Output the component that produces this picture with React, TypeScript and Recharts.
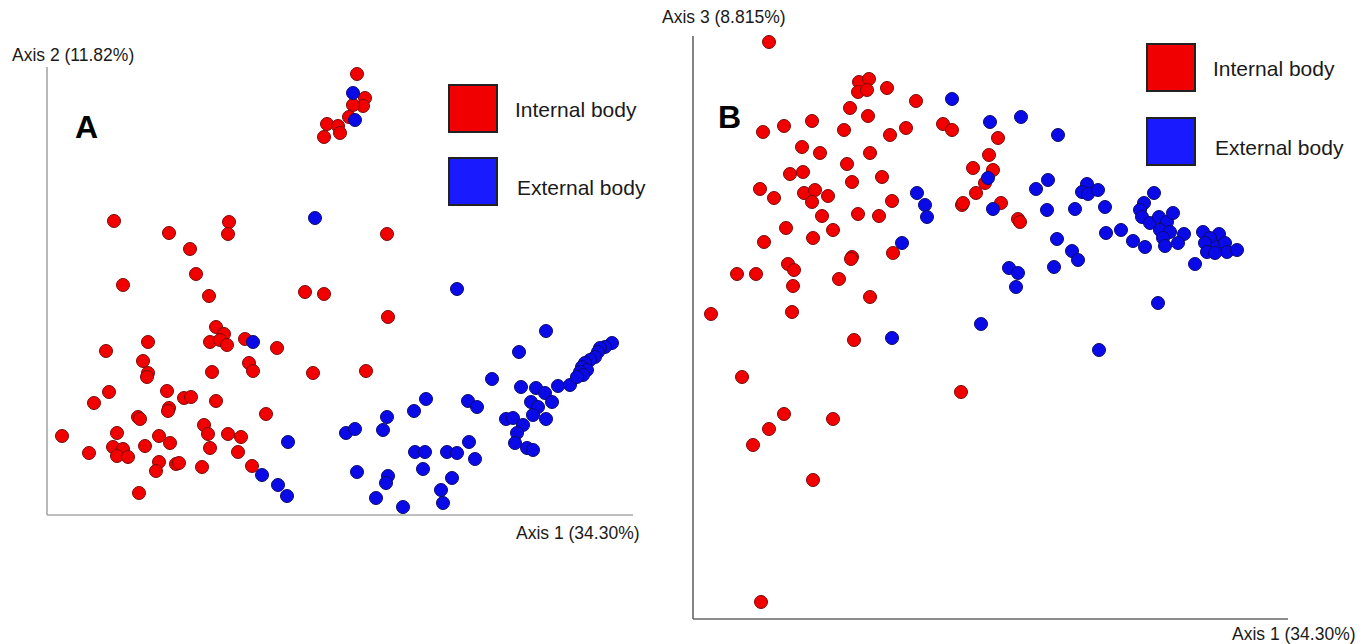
import { ScatterChart, Scatter, XAxis, YAxis, Legend } from "recharts";

// PCoA scores (arbitrary units, origin at the axes corner)
const groups = ["Internal body", "External body"];

const internalA = [
  [310, 441], [318, 417], [316, 409], [306, 410], [302, 398], [280, 391], [291, 389], [293, 382], [277, 378],
  [67, 294], [122, 282], [182, 293], [181, 281], [143, 266], [149, 241], [340, 281], [76, 230], [162, 219],
  [258, 223], [277, 221], [341, 198], [169, 188], [177, 181], [163, 173], [173, 175], [180, 170], [198, 176],
  [230, 167], [101, 173], [59, 164], [96, 154], [101, 142], [100, 138], [165, 143], [202, 152], [206, 144],
  [266, 142], [319, 144], [62, 123], [47, 112], [120, 124], [137, 117], [144, 118], [122, 107], [121, 104],
  [169, 114], [91, 98], [93, 96], [219, 101], [157, 90], [161, 81], [15, 79], [70, 82], [112, 79], [123, 72],
  [181, 81], [194, 78], [42, 62], [66, 68], [76, 66], [70, 59], [81, 58], [98, 69], [163, 67], [191, 63],
  [112, 53], [109, 44], [129, 51], [132, 52], [155, 48], [205, 49], [92, 22],
];

const externalA = [
  [306, 422], [308, 395], [268, 297], [206, 173], [410, 226], [241, 73], [215, 40], [231, 30], [240, 19],
  [499, 184], [472, 163], [445, 136], [474, 128], [489, 127], [498, 122], [511, 129], [523, 130], [565, 172],
  [558, 168], [553, 167], [551, 163], [548, 158], [543, 155], [538, 152], [535, 148], [540, 145], [533, 143],
  [536, 140], [530, 138], [379, 116], [367, 104], [421, 114], [430, 108], [340, 98], [336, 85], [299, 82],
  [308, 86], [459, 96], [466, 97], [476, 90], [484, 113], [491, 108], [505, 113], [486, 100], [499, 96],
  [470, 82], [468, 72], [480, 67], [486, 65], [422, 73], [368, 63], [378, 63], [400, 63], [410, 62], [428, 56],
  [376, 46], [310, 43], [341, 39], [339, 32], [405, 37], [394, 25], [396, 12], [329, 17], [356, 8],
];

const internalB = [
  [76, 577], [166, 537], [176, 540], [165, 527], [174, 529], [194, 531], [223, 518], [157, 511], [175, 503],
  [70, 487], [91, 493], [119, 498], [151, 489], [197, 484], [213, 491], [250, 495], [259, 489], [305, 481],
  [109, 472], [127, 466], [177, 466], [296, 464], [154, 455], [97, 445], [110, 447], [280, 451], [300, 449],
  [292, 436], [159, 437], [189, 442], [67, 430], [81, 421], [111, 426], [122, 429], [119, 417], [135, 423],
  [199, 418], [283, 426], [269, 414], [270, 416], [308, 416], [325, 400], [327, 397], [129, 403], [165, 405],
  [186, 403], [93, 391], [140, 389], [120, 381], [71, 377], [200, 366], [159, 362], [158, 360], [95, 355],
  [101, 349], [44, 345], [63, 345], [100, 333], [146, 340], [177, 322], [18, 305], [99, 307], [161, 279],
  [49, 242], [268, 227], [91, 205], [76, 190], [60, 174], [140, 200], [120, 139], [68, 17],
];

const externalB = [
  [259, 520], [297, 497], [328, 502], [365, 484], [295, 441], [224, 426], [232, 414], [234, 402], [300, 410],
  [209, 376], [199, 281], [288, 295], [316, 351], [325, 346], [323, 332], [355, 439], [343, 430], [394, 435],
  [389, 427], [395, 425], [405, 429], [354, 409], [382, 410], [412, 412], [461, 426], [451, 416], [447, 409],
  [449, 402], [457, 396], [466, 402], [474, 397], [480, 406], [467, 389], [477, 387], [491, 385], [470, 381],
  [472, 373], [485, 376], [428, 389], [413, 386], [440, 378], [452, 372], [510, 387], [526, 385], [517, 381],
  [512, 376], [524, 372], [532, 376], [514, 367], [534, 367], [544, 369], [522, 366], [364, 380], [379, 368],
  [385, 359], [361, 352], [502, 355], [465, 316], [406, 269],
];

const toPoints = (arr: number[][]) => arr.map(([x, y]) => ({ x, y }));

const legendColors = ["#f00000", "#1a1aff"];

const dot = (fill: string, stroke: string) => (props: any) => (
  <circle cx={props.cx} cy={props.cy} r={6.5} fill={fill} stroke={stroke} strokeWidth={1} />
);

const renderLegend = (step: number) => ({ payload }: any) => {
  const items = [...(payload || [])].sort(
    (a: any, b: any) => groups.indexOf(a.value) - groups.indexOf(b.value)
  );
  return (
    <div>
      {items.map((p: any) => {
        const i = groups.indexOf(p.value);
        return (
          <div key={p.value} style={{ display: "flex", alignItems: "center", height: 49, marginBottom: step - 49 }}>
            <div
              style={{
                width: 46,
                height: 45,
                background: legendColors[i],
                border: "2px solid #222",
              }}
            />
            <span
              style={{
                marginLeft: i === 0 ? 17 : 19,
                position: "relative",
                top: i === 0 ? 1 : 6,
                fontSize: 21,
                color: "#1a1a1a",
              }}
            >
              {p.value}
            </span>
          </div>
        );
      })}
    </div>
  );
};

const label = (text: string, left: number, top: number, extra: any = {}) => (
  <div
    style={{
      position: "absolute",
      left,
      top,
      fontSize: 17.5,
      lineHeight: "20px",
      color: "#1a1a1a",
      whiteSpace: "nowrap",
      ...extra,
    }}
  >
    {text}
  </div>
);

const Panel = ({
  left,
  width,
  height,
  margin,
  xMax,
  yMax,
  internal,
  external,
  axisColor,
  legendPos,
  legendStep,
}: {
  left: number;
  width: number;
  height: number;
  margin: { top: number; right: number; bottom: number; left: number };
  xMax: number;
  yMax: number;
  internal: number[][];
  external: number[][];
  axisColor: string;
  legendPos: { top: number; left: number };
  legendStep: number;
}) => (
  <div style={{ position: "absolute", left, top: 0 }}>
    <ScatterChart width={width} height={height} margin={margin}>
      <XAxis
        type="number"
        dataKey="x"
        domain={[0, xMax]}
        height={1}
        tick={false}
        tickLine={false}
        axisLine={{ stroke: axisColor, strokeWidth: 1.6 }}
      />
      <YAxis
        type="number"
        dataKey="y"
        domain={[0, yMax]}
        width={1}
        tick={false}
        tickLine={false}
        axisLine={{ stroke: axisColor, strokeWidth: 1.6 }}
      />
      <Legend
        layout="horizontal"
        verticalAlign="middle"
        align="center"
        content={renderLegend(legendStep)}
        wrapperStyle={{ top: legendPos.top, left: legendPos.left, width: 230 }}
      />
      <Scatter
        name={groups[0]}
        data={toPoints(internal)}
        fill={legendColors[0]}
        shape={dot("#f20000", "#7a0a0a")}
        isAnimationActive={false}
      />
      <Scatter
        name={groups[1]}
        data={toPoints(external)}
        fill={legendColors[1]}
        shape={dot("#0a0ae8", "#0a0a70")}
        isAnimationActive={false}
      />
    </ScatterChart>
  </div>
);

export default function App() {
  return (
    <div
      style={{
        position: "absolute",
        left: 0,
        top: 0,
        width: 1371,
        height: 644,
        overflow: "hidden",
        background: "#fff",
        fontFamily: "Arial, 'Liberation Sans', sans-serif",
      }}
    >
      <Panel
        left={0}
        width={660}
        height={560}
        margin={{ top: 67, right: 27, bottom: 44, left: 46 }}
        xMax={586}
        yMax={448}
        internal={internalA}
        external={externalA}
        axisColor="#a8a8a8"
        legendPos={{ top: 84, left: 448 }}
        legendStep={73}
      />
      <Panel
        left={650}
        width={700}
        height={644}
        margin={{ top: 36, right: 62, bottom: 24, left: 42 }}
        xMax={595}
        yMax={583}
        internal={internalB}
        external={externalB}
        axisColor="#666"
        legendPos={{ top: 43, left: 496 }}
        legendStep={74}
      />
      {label("Axis 2 (11.82%)", 12, 45)}
      {label("Axis 1 (34.30%)", 516, 523)}
      {label("Axis 3 (8.815%)", 662, 7)}
      {label("Axis 1 (34.30%)", 1232, 624)}
      {label("A", 75, 111, { fontSize: 32, lineHeight: 1, fontWeight: "bold", color: "#000" })}
      {label("B", 718, 101, { fontSize: 32, lineHeight: 1, fontWeight: "bold", color: "#000" })}
    </div>
  );
}
